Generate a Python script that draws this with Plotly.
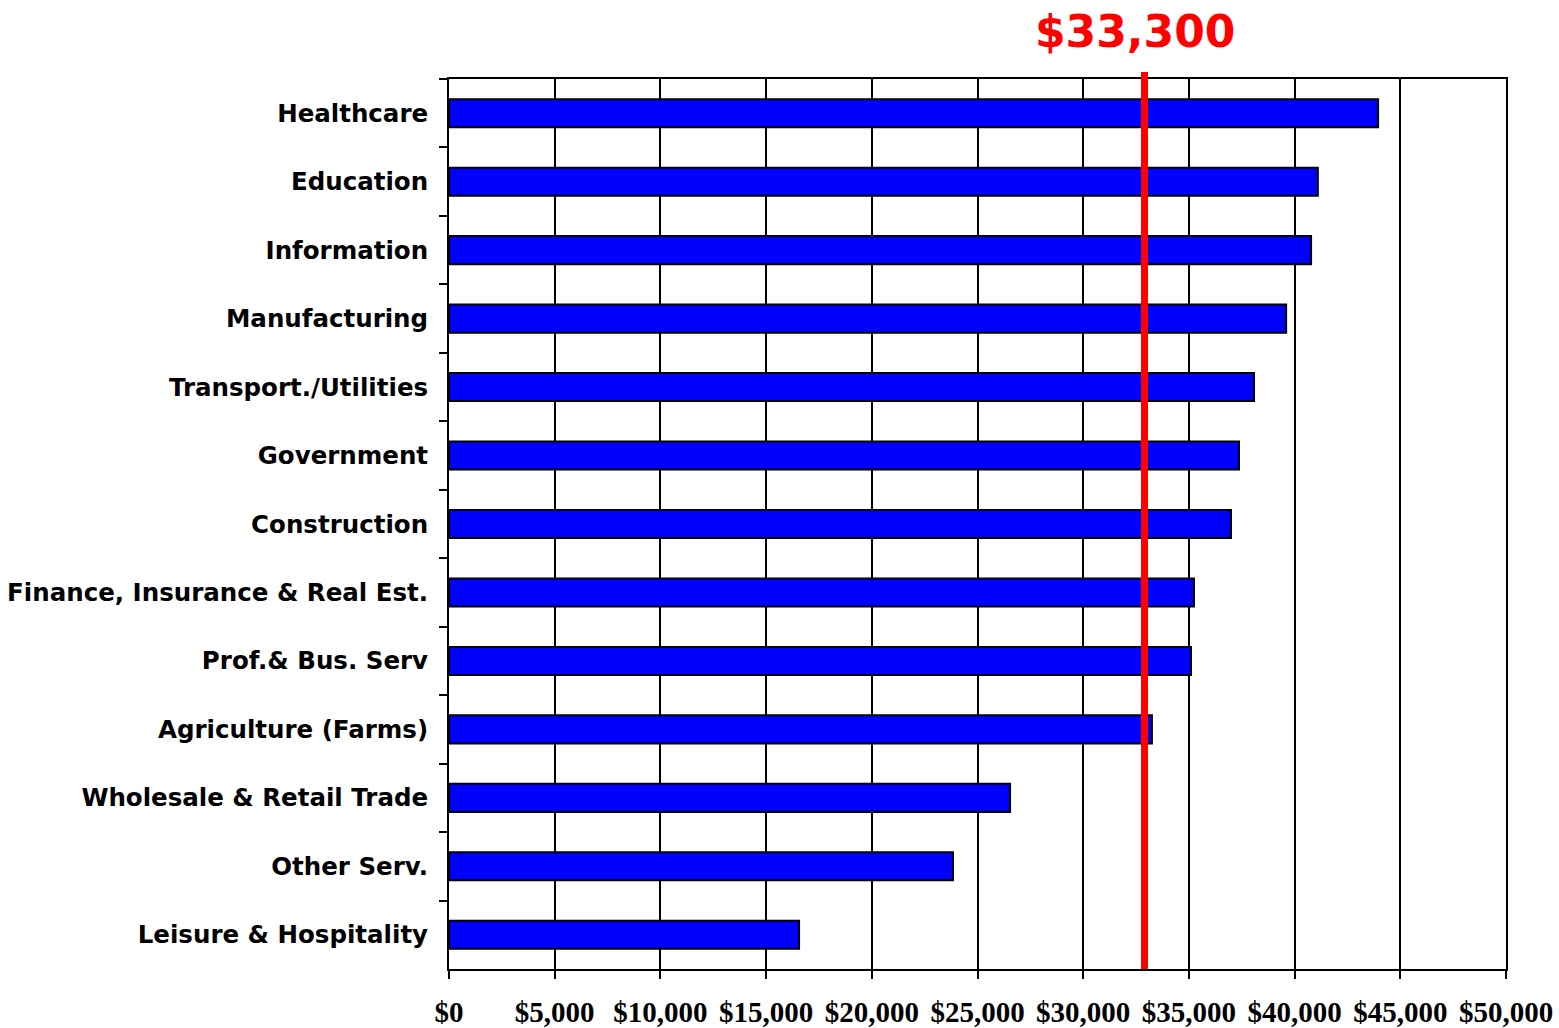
"""Average annual wage by industry, horizontal bar chart with reference line."""

import plotly.graph_objects as go

INDUSTRIES = [
    "Healthcare", "Education", "Information", "Manufacturing",
    "Transport./Utilities", "Government", "Construction",
    "Finance, Insurance & Real Est.", "Prof.& Bus. Serv",
    "Agriculture (Farms)", "Wholesale & Retail Trade", "Other Serv.",
    "Leisure & Hospitality",
]
WAGES = [43950, 41100, 40780, 39600, 38080, 37370, 36990,
         35240, 35100, 33250, 26540, 23840, 16560]

REF_VALUE = 32900
REF_LABEL = "$33,300"

X_TICKS = list(range(0, 50001, 5000))
X_TICK_TEXT = [f"${v:,}" for v in X_TICKS]

fig = go.Figure()
fig.add_trace(go.Bar(
    x=WAGES, y=INDUSTRIES, orientation="h",
    marker=dict(color="#0000ff", line=dict(color="black", width=2)),
))

# red reference line, sticks out a little above the plot box
fig.add_shape(type="line", xref="x", yref="paper",
              x0=REF_VALUE, x1=REF_VALUE, y0=0, y1=1.008,
              line=dict(color="#ff0000", width=7))
fig.add_annotation(x=REF_VALUE, xref="x", y=1.053, yref="paper",
                   text=f"<b>{REF_LABEL}</b>", showarrow=False,
                   xanchor="center", yanchor="middle", xshift=-10,
                   font=dict(family="DejaVu Sans", size=44, color="#ff0000"))

fig.update_layout(
    width=1559, height=1028,
    margin=dict(l=449, r=53, t=79, b=59),
    plot_bgcolor="white", paper_bgcolor="white",
    bargap=0.59, showlegend=False,
    xaxis=dict(
        range=[0, 50000], tickvals=X_TICKS, ticktext=X_TICK_TEXT,
        showgrid=True, gridcolor="black", gridwidth=2,
        showline=True, linecolor="black", linewidth=2, mirror=True,
        ticks="outside", ticklen=8, tickwidth=2, tickcolor="black",
        zeroline=False, automargin=False,
        tickfont=dict(family="Liberation Serif", size=29, color="black",
                      weight="bold"),
        ticklabelstandoff=8,
    ),
    yaxis=dict(
        autorange="reversed", tickson="boundaries",
        showgrid=False, showline=True, linecolor="black", linewidth=2,
        mirror=True, ticks="outside", ticklen=8, tickwidth=2,
        tickcolor="black", automargin=False,
        tickfont=dict(family="DejaVu Sans", size=24.5, color="black",
                      weight="bold"),
        ticklabelstandoff=14,
    ),
)

# drop the default 8px body margin so the figure fills the window exactly
fig.write_html("out.html", config={"displayModeBar": False},
               post_script="document.body.style.margin = '0';")
